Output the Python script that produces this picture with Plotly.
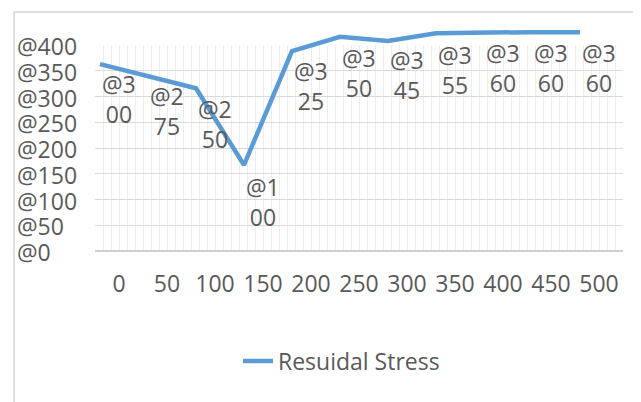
import plotly.graph_objects as go

# ---- data ----
categories = [0, 50, 100, 150, 200, 250, 300, 350, 400, 450, 500]
category_labels = [str(c) for c in categories]
# line values as drawn in the picture
stress_line = [363, 340, 316, 167, 388, 416, 408, 423, 425, 425, 425]
# data-label values shown beside the points
label_values = [300, 275, 250, 100, 325, 350, 345, 355, 360, 360, 360]
y_ticks = [0, 50, 100, 150, 200, 250, 300, 350, 400]
y_tick_labels = ["@" + str(v) for v in y_ticks]
series_name = "Resuidal Stress"

FONT = "Open Sans"
GREY = "#595959"
BLUE = "#5B9BD5"
FS = 23

label_text = []
for v in label_values:
    s = "@" + str(v)
    label_text.append(s[:2] + "<br>" + s[2:])

# page body has an 8px margin: work in screen pixels, shift by OFF
OFF = 8
W, H = 641, 402
GRID_TOP, GRID_BOT = 45, 251        # screen px of the 400 and 0 gridlines
AREA_TOP = 20                       # extra room above for the line
L = 95 - OFF
T = AREA_TOP - OFF
pw = 528
ph = GRID_BOT - AREA_TOP
R = W - L - pw
B = H - T - ph
grid_frac = (GRID_BOT - GRID_TOP) / ph
y2_max = 400 / grid_frac


def px_x(p):
    return (p - OFF - L) / pw


def px_y(p):
    return (GRID_BOT - p) / ph


fig = go.Figure()

# invisible carrier so the category axis is drawn
fig.add_trace(go.Scatter(
    x=categories, y=label_values, mode="markers",
    marker=dict(opacity=0, size=1), showlegend=False, hoverinfo="skip",
    xaxis="x", yaxis="y",
))

fig.add_trace(go.Scatter(
    x=categories, y=stress_line, mode="lines", name=series_name,
    line=dict(color=BLUE, width=4.5),
    xaxis="x2", yaxis="y2", cliponaxis=False,
))

annotations = []
for v, t in zip(y_ticks, y_tick_labels):
    annotations.append(dict(
        x=px_x(15), xref="paper", y=v, yref="y", text=t, showarrow=False,
        xanchor="left", yanchor="middle", yshift=-1,
        font=dict(family=FONT, size=FS, color=GREY),
    ))
for c, v, t in zip(categories, label_values, label_text):
    annotations.append(dict(
        x=c, xref="x", y=v, yref="y", text=t, showarrow=False,
        xanchor="center", yanchor="middle", yshift=-2, align="center",
        font=dict(family=FONT, size=FS, color=GREY),
    ))

fig.update_layout(
    width=W, height=H,
    margin=dict(l=L, r=R, t=T, b=B),
    paper_bgcolor="white", plot_bgcolor="rgba(0,0,0,0)",
    font=dict(family=FONT, size=FS, color=GREY),
    xaxis=dict(
        range=[-25, 525], tickmode="array", tickvals=categories,
        ticktext=category_labels, showgrid=False, zeroline=False,
        showline=False, ticks="", ticklabelstandoff=17,
        tickfont=dict(family=FONT, size=FS, color=GREY),
        minor=dict(dtick=50 / 6, tick0=-25, showgrid=True,
                   gridcolor="#ededed", gridwidth=1),
        anchor="y", fixedrange=True,
    ),
    yaxis=dict(
        domain=[0, grid_frac],
        range=[0, 400], tickmode="array", tickvals=y_ticks,
        showticklabels=False, showgrid=True, gridcolor="#dadada",
        gridwidth=1, zeroline=True, zerolinecolor="#d0d0d0",
        zerolinewidth=1.5, showline=False, ticks="", anchor="x",
    ),
    xaxis2=dict(
        range=[-25 + 19.8, 525 + 19.8], anchor="y2", visible=False,
        domain=[0, 1], showgrid=False,
    ),
    yaxis2=dict(
        range=[0, y2_max], domain=[0, 1], anchor="x2", visible=False,
        showgrid=False,
    ),
    showlegend=True,
    legend=dict(
        orientation="h", x=px_x(238), xanchor="left",
        y=px_y(361), yanchor="middle", itemwidth=30,
        font=dict(family=FONT, size=FS, color=GREY),
        bgcolor="rgba(0,0,0,0)",
    ),
    annotations=annotations,
    shapes=[dict(
        type="rect", xref="paper", yref="paper",
        x0=px_x(14), x1=px_x(637), y0=px_y(420), y1=px_y(12),
        line=dict(color="#d4d4d4", width=1.5), fillcolor="rgba(0,0,0,0)",
        layer="below",
    )],
)

fig.write_html("out.html")
